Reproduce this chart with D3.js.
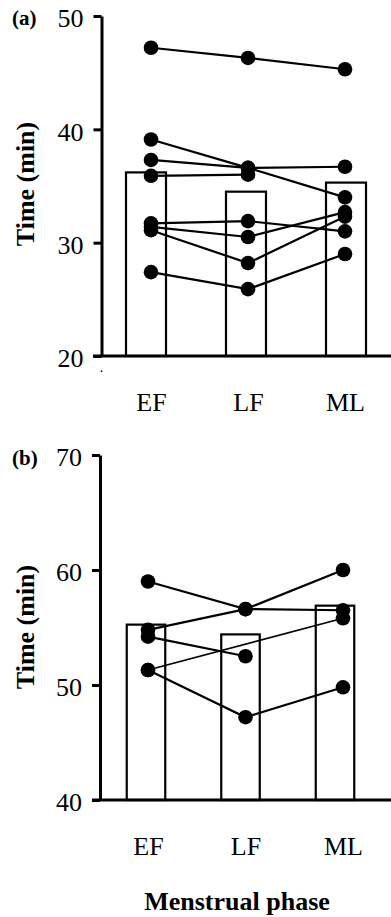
<!DOCTYPE html>
<html>
<head>
<meta charset="utf-8">
<script src="https://cdn.jsdelivr.net/npm/d3@7"></script>
<style>
  body { margin: 0; background: #fff; }
  svg text { font-family: "Liberation Serif", "Times New Roman", serif; fill: #000; }
</style>
</head>
<body>
<div id="chart"></div>
<script>
// --- data ---
const phases = ["EF", "LF", "ML"];

// (a)
const ticksA = [20, 30, 40, 50];
const meansA = [36.2, 34.5, 35.3];
const subjectsA = [
    [47.2, 46.3, 45.3],
    [39.1, 36.6, 34.0],
    [37.3, 36.6, 36.7],
    [35.9, 36.0, null],
    [31.7, 31.9, 31.0],
    [31.4, 30.5, 32.7],
    [31.1, 28.2, 32.3],
    [27.4, 25.9, 29.0]
];

// (b)
const ticksB = [40, 50, 60, 70];
const meansB = [55.25, 54.4, 56.9];
const subjectsB = [
    [59.0, 56.6, 60.0],
    [54.8, 56.6, 56.5],
    [54.2, 52.5, null],
    [51.3, null, 55.8],
    [51.3, 47.2, 49.8]
];

const width = 391, height = 917;

const svg = d3.select("#chart").append("svg")
    .attr("width", width)
    .attr("height", height);

// layout of each panel (pixels)
const panels = [
    { tag: "(a)", ticks: ticksA, means: meansA, subjects: subjectsA,
      axisX: 101.5, yRange: [356, 16], barRange: [146, 346], dotRange: [151, 345],
      barW: 40, xStart: 93, tagY: 25, titleY: 184, dot: true },
    { tag: "(b)", ticks: ticksB, means: meansB, subjects: subjectsB,
      axisX: 100, yRange: [800, 455], barRange: [146, 335], dotRange: [148, 343],
      barW: 38.5, xStart: 92, tagY: 465, titleY: 627, dot: false }
];

panels.forEach(p => {
    const y = d3.scaleLinear()
        .domain(d3.extent(p.ticks))
        .range(p.yRange);
    const xBar = d3.scalePoint().domain(phases).range(p.barRange);
    const xDot = d3.scalePoint().domain(phases).range(p.dotRange);
    const base = y(p.ticks[0]);

    const g = svg.append("g");

    // bars (means)
    g.selectAll("rect.bar")
        .data(p.means)
        .enter()
        .append("rect")
        .attr("class", "bar")
        .attr("x", (d, i) => xBar(phases[i]) - p.barW / 2)
        .attr("y", d => y(d))
        .attr("width", p.barW)
        .attr("height", d => base - y(d))
        .attr("fill", "#fff")
        .attr("stroke", "#000")
        .attr("stroke-width", 2.2);

    // individual subjects: lines then dots
    const line = d3.line()
        .x(d => xDot(d.phase))
        .y(d => y(d.v));

    p.subjects.forEach(s => {
        const pts = s.map((v, i) => ({ phase: phases[i], v }))
            .filter(d => d.v != null);
        const skip = s[1] == null;
        g.append("path")
            .datum(pts)
            .attr("d", line)
            .attr("fill", "none")
            .attr("stroke", "#000")
            .attr("stroke-width", skip ? 1.7 : 2.2);
        g.selectAll(null)
            .data(pts)
            .enter()
            .append("circle")
            .attr("cx", d => xDot(d.phase))
            .attr("cy", d => y(d.v))
            .attr("r", 7.3)
            .attr("fill", "#000");
    });

    // y axis
    const yAxis = d3.axisLeft(y)
        .tickValues(p.ticks)
        .tickSize(8)
        .tickSizeOuter(0)
        .tickPadding(10);
    const ya = g.append("g")
        .attr("transform", `translate(${p.axisX},0)`)
        .call(yAxis);
    ya.selectAll("path, line").attr("stroke", "#000").attr("stroke-width", 3);
    ya.selectAll("text")
        .attr("dy", "0.42em")
        .style("font-size", "26px")
        .style("font-family", "'Liberation Serif', serif");

    // x axis line
    g.append("line")
        .attr("x1", p.xStart).attr("x2", width)
        .attr("y1", base).attr("y2", base)
        .attr("stroke", "#000")
        .attr("stroke-width", 3);

    // category labels
    const xa = g.append("g")
        .attr("transform", `translate(0,${base})`)
        .call(d3.axisBottom(xDot).tickSize(0).tickPadding(37));
    xa.select(".domain").remove();
    xa.selectAll("text")
        .style("font-size", "26px")
        .style("font-family", "'Liberation Serif', serif");

    if (p.dot) {
        g.append("text")
            .attr("x", p.axisX)
            .attr("y", base + 16)
            .attr("text-anchor", "middle")
            .style("font-size", "14px")
            .text(".");
    }

    // panel tag
    g.append("text")
        .attr("x", 12)
        .attr("y", p.tagY)
        .style("font-size", "21px")
        .style("font-weight", "bold")
        .text(p.tag);

    // y title
    g.append("text")
        .attr("transform", `translate(34,${p.titleY}) rotate(-90)`)
        .attr("text-anchor", "middle")
        .style("font-size", "26px")
        .style("font-weight", "bold")
        .text("Time (min)");
});

// x title
svg.append("text")
    .attr("x", 237)
    .attr("y", 910)
    .attr("text-anchor", "middle")
    .style("font-size", "26px")
    .style("font-weight", "bold")
    .text("Menstrual phase");
</script>
</body>
</html>
